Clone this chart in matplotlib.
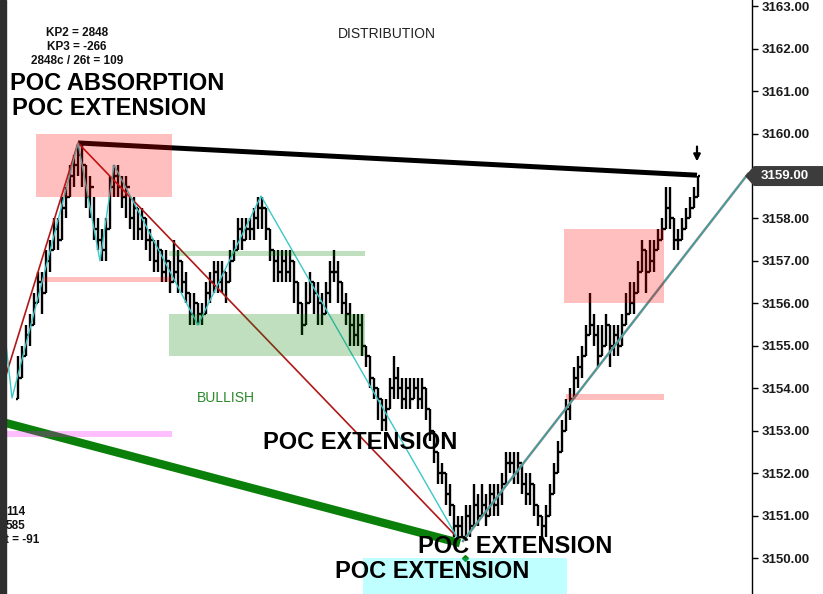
import matplotlib
matplotlib.use('Agg')
import matplotlib.pyplot as plt
from matplotlib.patches import Rectangle, Polygon
from matplotlib.transforms import IdentityTransform
import numpy as np

plt.rcParams['font.family'] = ['Liberation Sans', 'DejaVu Sans']

# ---------------- data ----------------
bar_close = [
    3154.25, 3154.75, 3155.25, 3155.5, 3156.0, 3156.5, 3156.25, 3157.0, 3157.25, 3157.75, 3157.5, 3158.25, 3158.5, 3159.0, 3159.25, 3159.5,
    3159.25, 3158.5, 3158.75, 3157.75, 3157.5, 3157.25, 3157.75, 3158.75, 3159.0,
    3158.75, 3158.5, 3158.75, 3158.0, 3158.25, 3157.75, 3158.0, 3157.5, 3157.5, 3157.0, 3157.25, 3156.75, 3157.0, 3156.5, 3156.75, 3157.0, 3156.5, 3156.25, 3155.75, 3156.0, 3155.75, 3155.75,
    3156.25, 3156.5, 3156.75, 3156.5, 3156.75, 3156.5, 3157.0, 3157.25, 3157.75, 3157.5, 3157.75, 3157.75, 3158.0, 3158.25, 3158.25,
    3157.75, 3157.25, 3157.0, 3156.75, 3157.0, 3156.75, 3157.0, 3156.5, 3156.0, 3155.5, 3156.0, 3156.5, 3156.25, 3156.0, 3155.75, 3156.25, 3156.75, 3156.75, 3156.5, 3156.0, 3155.75, 3155.5, 3155.25, 3155.5, 3155.0, 3154.75,
    3154.25, 3154.0, 3153.75, 3153.25, 3153.5, 3154.0, 3154.25, 3154.0, 3153.75, 3154.0, 3153.75, 3154.0, 3153.75, 3154.0, 3153.5, 3153.0,
    3152.5, 3152.0, 3152.0, 3151.5, 3151.25, 3150.75, 3150.75, 3150.5, 3151.0, 3150.75, 3151.25, 3151.0, 3151.25, 3151.0, 3151.5, 3151.25, 3151.5, 3151.75, 3152.25, 3152.25, 3152.0, 3152.25, 3151.75, 3151.5, 3151.75, 3151.25, 3151.0, 3150.75, 3151.0, 3151.5, 3152.0, 3152.5, 3153.0, 3153.5, 3153.75, 3154.25, 3154.5,
    3154.75, 3155.25, 3155.5, 3155.25, 3154.75, 3155.0, 3155.5, 3155.0, 3155.25, 3155.0, 3155.5, 3155.75, 3156.0, 3156.25, 3156.75, 3157.25, 3156.75, 3157.0, 3157.25, 3157.5, 3157.75, 3158.25, 3158.0, 3157.5, 3157.5, 3157.75, 3158.0, 3158.25, 3158.5, 3159.0,
]
bar_high = [
    3154.75, 3155.0, 3155.5, 3155.75, 3156.25, 3156.75, 3156.75, 3157.25, 3157.5, 3158.0, 3158.0, 3158.5, 3158.75, 3159.25, 3159.5, 3159.75,
    3159.75, 3159.25, 3159.0, 3158.5, 3158.0, 3157.75, 3158.0, 3159.0, 3159.25,
    3159.25, 3159.0, 3159.0, 3158.5, 3158.5, 3158.25, 3158.25, 3158.0, 3157.75, 3157.5, 3157.5, 3157.25, 3157.25, 3157.0, 3157.5, 3157.25, 3157.0, 3156.75, 3156.25, 3156.25, 3156.0, 3156.0,
    3156.5, 3156.75, 3157.0, 3157.0, 3157.0, 3156.75, 3157.25, 3157.5, 3158.0, 3158.0, 3158.0, 3158.0, 3158.25, 3158.5, 3158.5,
    3158.25, 3157.75, 3157.25, 3157.25, 3157.25, 3157.25, 3157.25, 3157.0, 3156.5, 3156.0, 3156.5, 3156.75, 3156.5, 3156.5, 3156.25, 3156.5, 3157.0, 3157.25, 3157.0, 3156.5, 3156.25, 3156.0, 3155.75, 3155.75, 3155.75, 3155.0,
    3154.75, 3154.25, 3154.0, 3153.75, 3153.75, 3154.25, 3154.75, 3154.5, 3154.25, 3154.25, 3154.25, 3154.25, 3154.25, 3154.25, 3154.0, 3153.5,
    3153.0, 3152.5, 3152.25, 3152.0, 3151.75, 3151.25, 3151.0, 3151.0, 3151.25, 3151.25, 3151.75, 3151.5, 3151.75, 3151.5, 3151.75, 3151.75, 3151.75, 3152.0, 3152.5, 3152.5, 3152.5, 3152.5, 3152.25, 3152.0, 3152.0, 3151.75, 3151.25, 3151.0, 3151.25, 3151.75, 3152.25, 3152.75, 3153.25, 3153.75, 3154.0, 3154.5, 3154.75,
    3155.0, 3155.5, 3156.25, 3155.75, 3155.5, 3155.5, 3155.75, 3155.5, 3155.5, 3155.5, 3155.75, 3156.25, 3156.5, 3156.5, 3157.0, 3157.5, 3157.25, 3157.5, 3157.5, 3157.75, 3158.0, 3158.75, 3158.75, 3158.0, 3157.75, 3158.0, 3158.25, 3158.5, 3158.75, 3159.0,
]
bar_low = [
    3153.75, 3154.25, 3154.75, 3155.0, 3155.5, 3156.0, 3155.75, 3156.25, 3156.75, 3157.25, 3157.25, 3157.5, 3158.0, 3158.5, 3158.75, 3159.0,
    3158.75, 3158.25, 3158.0, 3157.5, 3157.25, 3157.0, 3157.0, 3157.75, 3158.5,
    3158.5, 3158.25, 3158.0, 3157.75, 3157.5, 3157.5, 3157.5, 3157.25, 3157.0, 3156.75, 3156.75, 3156.5, 3156.5, 3156.25, 3156.5, 3156.25, 3156.25, 3156.0, 3155.5, 3155.5, 3155.5, 3155.5,
    3155.75, 3156.0, 3156.25, 3156.25, 3156.25, 3156.0, 3156.5, 3157.0, 3157.25, 3157.25, 3157.5, 3157.5, 3157.5, 3157.75, 3157.75,
    3157.5, 3157.0, 3156.5, 3156.5, 3156.5, 3156.5, 3156.5, 3156.0, 3155.75, 3155.25, 3155.5, 3156.0, 3155.75, 3155.5, 3155.5, 3155.75, 3156.0, 3156.5, 3156.0, 3155.75, 3155.5, 3155.0, 3155.0, 3155.0, 3154.75, 3154.5,
    3154.0, 3153.75, 3153.25, 3153.0, 3153.0, 3153.5, 3153.75, 3153.75, 3153.5, 3153.5, 3153.5, 3153.75, 3153.5, 3153.5, 3153.25, 3152.75,
    3152.25, 3151.75, 3151.75, 3151.25, 3151.0, 3150.5, 3150.5, 3150.5, 3150.5, 3150.5, 3150.75, 3150.75, 3151.0, 3150.75, 3151.0, 3151.0, 3151.0, 3151.25, 3151.75, 3152.0, 3151.75, 3151.75, 3151.5, 3151.25, 3151.25, 3151.0, 3150.75, 3150.5, 3150.5, 3151.0, 3151.5, 3152.0, 3152.5, 3153.0, 3153.25, 3153.75, 3154.0,
    3154.25, 3154.75, 3155.25, 3155.0, 3154.5, 3154.75, 3155.0, 3154.5, 3154.75, 3154.75, 3155.0, 3155.5, 3155.75, 3155.75, 3156.25, 3156.75, 3156.25, 3156.75, 3156.75, 3157.25, 3157.5, 3157.75, 3157.75, 3157.25, 3157.25, 3157.5, 3157.75, 3158.0, 3158.25, 3158.5,
]

# zones (bar index range, price range, colour)
zone_start = [4.5, 6.25, 37.75, 37.75, -3.0, 136.5, 137.0, 86.25]
zone_end = [38.5, 38.5, 86.75, 86.75, 38.5, 161.5, 161.5, 137.25]
zone_low = [3158.5, 3156.5, 3157.12, 3154.75, 3152.85, 3156.0, 3153.72, 3149.0]
zone_high = [3160.0, 3156.62, 3157.23, 3155.75, 3152.99, 3157.75, 3153.86, 3150.0]
zone_color = ['red', 'red', 'green', 'green', 'magenta', 'red', 'red', 'cyan']

# trend / swing lines
black_x = [15, 169.75]
black_y = [3159.78, 3159.02]
red_x = [-3.0, 15, 109.25]
red_y = [3154.31, 3159.78, 3150.54]
green_x = [-3.0, 110.5]
green_y = [3153.18, 3150.35]
cyan_x = [-3.25, -1.5, 15, 20.5, 24, 45, 60.75, 109.75]
cyan_y = [3155.25, 3153.77, 3159.78, 3157.0, 3159.26, 3155.49, 3158.53, 3150.49]
up_x = [111.25, 182.5]
up_y = [3150.4, 3159.05]

last_price = 3159.00
yticks = list(range(3150, 3164))

# ---------------- figure ----------------
W, H = 823, 594
fig = plt.figure(figsize=(W / 100, H / 100), dpi=100)
fig.patch.set_facecolor('white')
ax = fig.add_axes([6 / W, 0, (752 - 6) / W, 1])
ax.set_xlim(-3.0, 183.5)
ax.set_ylim(3149.152, 3163.148)

# left dark border
fig.add_artist(Rectangle((0, 0), 6 / W, 1, transform=fig.transFigure,
                         color='#2e2e2e', zorder=10))

# bars (open tick left, close tick right)
x = np.arange(len(bar_close))
opens = [bar_low[0]] + bar_close[:-1]
ax.vlines(x, bar_low, bar_high, color='black', lw=1.7, zorder=3)
ax.hlines(opens, x - 0.5, x, color='black', lw=1.7, zorder=3)
ax.hlines(bar_close, x, x + 0.5, color='black', lw=1.7, zorder=3)

# lines
ax.plot(green_x, green_y, color='#0a800a', lw=6, solid_capstyle='butt', zorder=4)
ax.plot(black_x, black_y, color='black', lw=3.6, solid_capstyle='butt', zorder=4)
ax.plot(red_x, red_y, color='#b01818', lw=1.2, zorder=4)
ax.plot(cyan_x, cyan_y, color='#3cc8c8', lw=1.0, zorder=4)
ax.plot(up_x, up_y, color='#8a8a8a', lw=1.8, zorder=4)
ax.plot(up_x, up_y, color='#20a8a8', lw=0.7, zorder=4)
ax.plot([111.75], [3150.0], marker='D', ms=3, color='#0a800a', zorder=4)

# zones (semi transparent overlays)
for s, e, lo, hi, c in zip(zone_start, zone_end, zone_low, zone_high, zone_color):
    ax.add_patch(Rectangle((s, lo), e - s, hi - lo, facecolor=c, alpha=0.25,
                           edgecolor='none', zorder=5))

# arrow at last bar
ax.annotate('', xy=(169.75, 3159.28), xytext=(169.75, 3159.76),
            arrowprops=dict(arrowstyle='-|>', color='black', lw=1.6,
                            mutation_scale=10), zorder=6)

# texts
big = dict(fontsize=17, fontweight='bold', color='black', zorder=7, va='center')
ax.text(-2.0, 3161.17, 'POC ABSORPTION', ha='left', **big)
ax.text(-1.5, 3160.58, 'POC EXTENSION', ha='left', **big)
ax.text(61.25, 3152.73, 'POC EXTENSION', ha='left', **big)
ax.text(100.0, 3150.28, 'POC EXTENSION', ha='left', **big)
ax.text(79.25, 3149.69, 'POC EXTENSION', ha='left', **big)

small = dict(fontsize=8.5, fontweight='bold', color='#111111', zorder=7, va='center')
ax.text(14.75, 3162.37, 'KP2 = 2848', ha='center', **small)
ax.text(14.75, 3162.04, 'KP3 = -266', ha='center', **small)
ax.text(14.75, 3161.71, '2848c / 26t = 109', ha='center', **small)
ax.text(-3.0, 3151.08, '114', ha='left', **small)
ax.text(-3.0, 3150.75, '585', ha='left', **small)
ax.text(-3.2, 3150.42, 't = -91', ha='left', **small)

ax.text(92.25, 3162.35, 'DISTRIBUTION', ha='center', va='center', fontsize=10,
        color='#222222', zorder=7)
ax.text(52.0, 3153.77, 'BULLISH', ha='center', va='center', fontsize=10,
        color='#2a8a2a', zorder=7)

# axes styling
for side in ['top', 'left', 'bottom']:
    ax.spines[side].set_visible(False)
ax.spines['right'].set_color('black')
ax.spines['right'].set_linewidth(1.0)
ax.set_xticks([])
ax.yaxis.tick_right()
ax.set_yticks(yticks)
ax.set_yticklabels([f'{v:.2f}' for v in yticks])
ax.tick_params(axis='y', direction='out', length=4, width=1, pad=3,
               labelsize=9.5, labelcolor='#1a1a1a', colors='black')
for lab in ax.get_yticklabels():
    lab.set_fontweight('bold')
    lab.set_color('#1a1a1a')

# last price marker: arrow-shaped box reaching the right edge
px_axis = ax.transAxes.transform((1.0, 0))[0]
py = ax.transData.transform((0, last_price))[1]
tag = Polygon([(px_axis - 7, py), (px_axis + 2, py + 10), (W, py + 10),
               (W, py - 10), (px_axis + 2, py - 10)], closed=True,
              transform=IdentityTransform(), facecolor='#3c3c3c',
              edgecolor='none', zorder=8)
fig.add_artist(tag)
fig.text((px_axis + 9) / W, py / H, f'{last_price:.2f}', ha='left', va='center',
         fontsize=9.5, fontweight='bold', color='white', zorder=9)

fig.savefig('out.png', dpi=100)
